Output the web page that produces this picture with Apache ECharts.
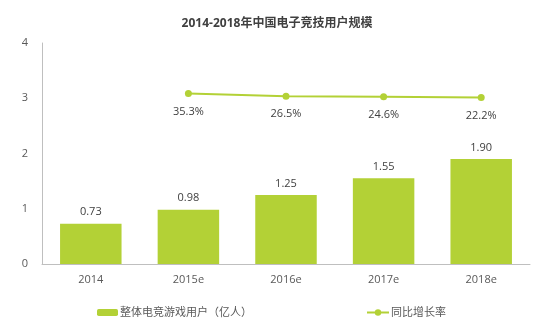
<!DOCTYPE html>
<html><head><meta charset="utf-8">
<script src="https://cdn.jsdelivr.net/npm/echarts@6/dist/echarts.min.js"></script>
<style>html,body{margin:0;padding:0;background:#fff}#c{width:554px;height:331px}</style>
</head><body><div id="c"></div>
<script>
var categories = ['2014', '2015e', '2016e', '2017e', '2018e'];
var users = [0.73, 0.98, 1.25, 1.55, 1.90];
var growth = [null, 35.3, 26.5, 24.6, 22.2];
var yTicks = [0, 1, 2, 3, 4];

var FONT = '"Open Sans", "Noto Sans CJK SC", sans-serif';
var chart = echarts.init(document.getElementById('c'));
chart.setOption({
  animation: false,
  textStyle: {fontFamily: FONT},
  title: {
    text: '2014-2018年中国电子竞技用户规模',
    left: 'center', top: 13,
    textStyle: {fontSize: 12, fontWeight: 'bold', color: '#404040', fontFamily: FONT}
  },
  legend: [{
    data: ['整体电竞游戏用户（亿人）'], left: 92, top: 302,
    itemWidth: 21, itemHeight: 7, itemGap: 4,
    textStyle: {fontSize: 11, color: '#595959', fontFamily: FONT, padding: [0,0,0,-3]}
  }, {
    data: ['同比增长率'], left: 361, top: 302,
    itemWidth: 22, itemHeight: 8,
    textStyle: {fontSize: 11, color: '#595959', fontFamily: FONT, padding: [0,0,0,-3]}
  }],
  grid: {left: 42, right: 24, top: 43, bottom: 67},
  xAxis: {
    type: 'category', data: categories,
    axisLine: {lineStyle: {color: '#bfbfbf'}},
    axisTick: {show: false},
    axisLabel: {color: '#595959', fontSize: 11, margin: 10}
  },
  yAxis: [{
    type: 'value', min: 0, max: 4, interval: 1,
    axisLine: {show: true, lineStyle: {color: '#bfbfbf'}},
    axisTick: {show: false},
    splitLine: {show: false},
    axisLabel: {color: '#595959', fontSize: 11, margin: 14}
  }, {
    type: 'value', min: -520, max: 200, show: false, splitLine: {show: false}
  }],
  series: [{
    name: '整体电竞游戏用户（亿人）', type: 'bar', data: users,
    barWidth: '63%',
    itemStyle: {color: '#b3d136'},
    label: {show: true, position: 'top', distance: 6, color: '#404040', fontSize: 11,
      formatter: function(p){return p.value.toFixed(2);}}
  }, {
    name: '同比增长率', type: 'line', yAxisIndex: 1, data: growth,
    symbol: 'circle', symbolSize: 7,
    lineStyle: {color: '#b3d136', width: 2},
    itemStyle: {color: '#b3d136'},
    label: {show: true, position: 'bottom', distance: 9, color: '#404040', fontSize: 11,
      formatter: function(p){return p.value.toFixed(1) + '%';}}
  }]
});
</script></body></html>
